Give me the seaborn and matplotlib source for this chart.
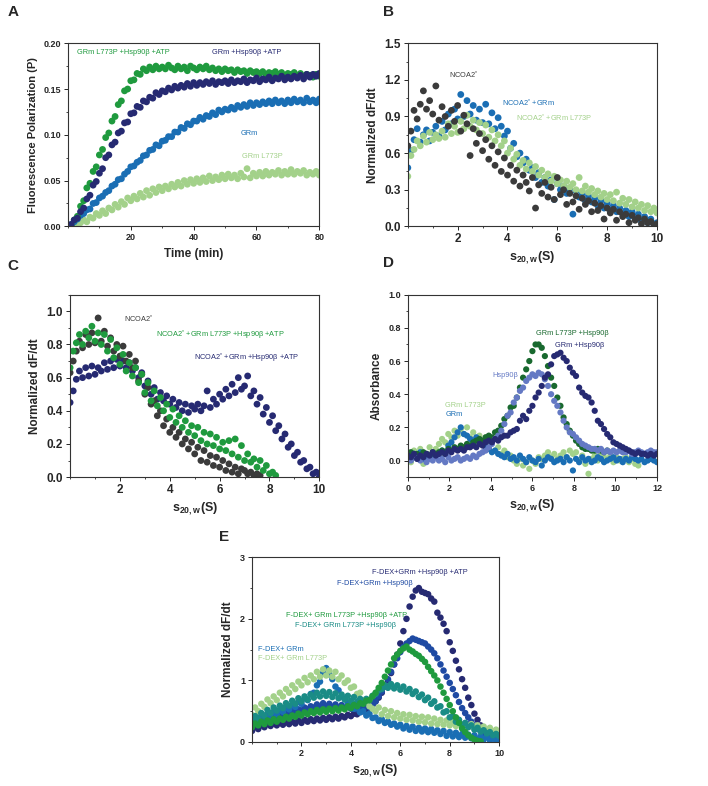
import numpy as np
import matplotlib
matplotlib.use("Agg")
import matplotlib.pyplot as plt
from matplotlib.ticker import AutoMinorLocator, FormatStrFormatter
import seaborn as sns

# ---- panel A: fluorescence polarization vs time (min)
time_min = np.arange(1, 81)
a_l773p_hsp_atp = [
    0.001, 0.007, 0.011, 0.022, 0.028, 0.042, 0.047, 0.060, 0.065, 0.078,
    0.084, 0.097, 0.102, 0.115, 0.120, 0.133, 0.137, 0.148, 0.150, 0.159,
    0.160, 0.167, 0.166, 0.172, 0.170, 0.174, 0.171, 0.175, 0.172, 0.174,
    0.172, 0.176, 0.173, 0.171, 0.175, 0.172, 0.174, 0.170, 0.175, 0.173,
    0.171, 0.174, 0.172, 0.175, 0.171, 0.173, 0.170, 0.172, 0.169, 0.172,
    0.170, 0.171, 0.168, 0.171, 0.169, 0.170, 0.167, 0.170, 0.168, 0.169,
    0.167, 0.169, 0.166, 0.168, 0.167, 0.169, 0.166, 0.168, 0.165, 0.167,
    0.166, 0.168, 0.165, 0.167, 0.164, 0.166, 0.165, 0.163, 0.166, 0.164]
a_grm_hsp_atp = [
    0.002, 0.007, 0.009, 0.016, 0.020, 0.030, 0.034, 0.045, 0.049, 0.058,
    0.063, 0.075, 0.078, 0.089, 0.092, 0.102, 0.104, 0.113, 0.114, 0.123,
    0.124, 0.131, 0.130, 0.137, 0.136, 0.141, 0.140, 0.146, 0.144, 0.148,
    0.147, 0.151, 0.149, 0.153, 0.151, 0.154, 0.152, 0.156, 0.153, 0.157,
    0.154, 0.157, 0.155, 0.158, 0.156, 0.159, 0.155, 0.158, 0.157, 0.159,
    0.156, 0.160, 0.157, 0.159, 0.158, 0.161, 0.157, 0.160, 0.159, 0.162,
    0.158, 0.161, 0.160, 0.163, 0.159, 0.162, 0.161, 0.164, 0.160, 0.163,
    0.161, 0.164, 0.162, 0.165, 0.161, 0.166, 0.163, 0.166, 0.164, 0.167]
a_grm = [
    0.002, 0.005, 0.008, 0.012, 0.014, 0.018, 0.019, 0.025, 0.026, 0.031,
    0.033, 0.037, 0.039, 0.044, 0.046, 0.051, 0.052, 0.057, 0.060, 0.065,
    0.066, 0.070, 0.072, 0.077, 0.078, 0.083, 0.084, 0.089, 0.088, 0.093,
    0.094, 0.098, 0.098, 0.103, 0.103, 0.108, 0.107, 0.112, 0.111, 0.115,
    0.115, 0.119, 0.117, 0.121, 0.120, 0.124, 0.122, 0.127, 0.125, 0.128,
    0.127, 0.130, 0.128, 0.132, 0.130, 0.133, 0.131, 0.135, 0.132, 0.135,
    0.133, 0.136, 0.134, 0.137, 0.134, 0.138, 0.135, 0.137, 0.134, 0.138,
    0.135, 0.139, 0.136, 0.138, 0.135, 0.140, 0.136, 0.138, 0.135, 0.139]
a_l773p = [
    0.000, 0.002, 0.001, 0.004, 0.007, 0.005, 0.010, 0.009, 0.014, 0.012,
    0.017, 0.014, 0.020, 0.018, 0.024, 0.021, 0.027, 0.024, 0.031, 0.028,
    0.033, 0.030, 0.036, 0.032, 0.039, 0.034, 0.041, 0.037, 0.043, 0.039,
    0.044, 0.041, 0.046, 0.043, 0.048, 0.044, 0.050, 0.046, 0.051, 0.047,
    0.052, 0.048, 0.053, 0.049, 0.055, 0.050, 0.054, 0.051, 0.056, 0.052,
    0.057, 0.053, 0.056, 0.052, 0.058, 0.054, 0.063, 0.053, 0.058, 0.055,
    0.059, 0.055, 0.060, 0.056, 0.059, 0.057, 0.061, 0.056, 0.060, 0.057,
    0.062, 0.057, 0.060, 0.058, 0.061, 0.056, 0.059, 0.057, 0.060, 0.056]

# ---- panels B, C, E share a 0..10 S grid (0.125 S steps); D uses 0..12 (0.15 S)
s_grid = np.linspace(0, 10, 81)
s_grid_d = np.linspace(0, 12, 81)

b_ncoa2 = [
    0.66, 0.78, 0.95, 0.88, 1.00, 1.11, 0.96, 1.03, 0.92, 1.15,
    0.87, 0.98, 0.90, 0.82, 0.95, 0.86, 0.99, 0.78, 0.91, 0.84,
    0.58, 0.80, 0.68, 0.76, 0.62, 0.71, 0.55, 0.66, 0.50, 0.61,
    0.45, 0.56, 0.42, 0.50, 0.37, 0.46, 0.33, 0.42, 0.36, 0.29,
    0.40, 0.15, 0.34, 0.27, 0.36, 0.24, 0.32, 0.22, 0.40, 0.26,
    0.30, 0.18, 0.27, 0.20, 0.25, 0.14, 0.23, 0.18, 0.21, 0.12,
    0.19, 0.13, 0.17, 0.06, 0.15, 0.11, 0.14, 0.05, 0.12, 0.08,
    0.10, 0.03, 0.09, 0.05, 0.07, 0.02, 0.06, 0.03, 0.04, 0.01, 0.02]
b_ncoa2_grm = [
    0.48, 0.62, 0.71, 0.80, 0.69, 0.75, 0.79, 0.70, 0.77, 0.82,
    0.74, 0.86, 0.79, 0.92, 0.84, 0.96, 0.88, 1.08, 0.90, 1.03,
    0.92, 0.99, 0.87, 0.96, 0.85, 1.00, 0.84, 0.93, 0.80, 0.89,
    0.82, 0.74, 0.78, 0.64, 0.68, 0.57, 0.60, 0.52, 0.55, 0.46,
    0.48, 0.40, 0.44, 0.36, 0.40, 0.33, 0.38, 0.22, 0.35, 0.30,
    0.33, 0.27, 0.31, 0.10, 0.29, 0.24, 0.27, 0.21, 0.25, 0.20,
    0.23, 0.17, 0.21, 0.15, 0.19, 0.13, 0.17, 0.12, 0.15, 0.10,
    0.13, 0.08, 0.12, 0.06, 0.10, 0.04, 0.08, 0.03, 0.06, 0.02, 0.03]
b_ncoa2_l773p = [
    0.41, 0.58, 0.63, 0.70, 0.66, 0.74, 0.69, 0.77, 0.71, 0.75,
    0.72, 0.78, 0.73, 0.84, 0.76, 0.82, 0.77, 0.86, 0.80, 0.91,
    0.82, 0.87, 0.79, 0.85, 0.76, 0.83, 0.73, 0.79, 0.70, 0.75,
    0.66, 0.70, 0.60, 0.64, 0.55, 0.59, 0.50, 0.54, 0.47, 0.52,
    0.45, 0.49, 0.42, 0.46, 0.40, 0.43, 0.37, 0.41, 0.35, 0.38,
    0.33, 0.37, 0.32, 0.35, 0.30, 0.40, 0.29, 0.33, 0.28, 0.31,
    0.26, 0.29, 0.24, 0.27, 0.22, 0.26, 0.21, 0.28, 0.19, 0.23,
    0.18, 0.22, 0.16, 0.20, 0.15, 0.18, 0.13, 0.17, 0.12, 0.15, 0.11]

c_ncoa2 = [
    0.63, 0.70, 0.76, 0.82, 0.78, 0.86, 0.80, 0.87, 0.81, 0.96,
    0.82, 0.88, 0.79, 0.84, 0.76, 0.80, 0.73, 0.79, 0.70, 0.74,
    0.66, 0.70, 0.58, 0.62, 0.50, 0.54, 0.44, 0.46, 0.37, 0.40,
    0.31, 0.35, 0.27, 0.30, 0.24, 0.27, 0.20, 0.23, 0.17, 0.21,
    0.14, 0.18, 0.10, 0.16, 0.09, 0.13, 0.07, 0.12, 0.06, 0.10,
    0.04, 0.08, 0.03, 0.06, 0.02, 0.05, 0.04, 0.02, 0.03, 0.01,
    0.02, 0.01]
c_l773p_hsp_atp = [
    0.66, 0.76, 0.81, 0.86, 0.80, 0.88, 0.84, 0.91, 0.82, 0.87,
    0.80, 0.86, 0.76, 0.83, 0.72, 0.78, 0.68, 0.74, 0.64, 0.69,
    0.61, 0.66, 0.57, 0.62, 0.51, 0.57, 0.46, 0.52, 0.43, 0.48,
    0.40, 0.44, 0.36, 0.41, 0.33, 0.37, 0.30, 0.34, 0.27, 0.31,
    0.25, 0.30, 0.22, 0.27, 0.20, 0.26, 0.19, 0.24, 0.17, 0.21,
    0.16, 0.22, 0.14, 0.23, 0.12, 0.19, 0.10, 0.14, 0.09, 0.11,
    0.06, 0.10, 0.04, 0.07, 0.02, 0.03, 0.01]
c_grm_hsp_atp = [
    0.45, 0.52, 0.59, 0.64, 0.60, 0.66, 0.61, 0.67, 0.62, 0.66,
    0.64, 0.69, 0.65, 0.70, 0.66, 0.71, 0.67, 0.70, 0.66, 0.69,
    0.64, 0.66, 0.60, 0.63, 0.55, 0.58, 0.50, 0.54, 0.47, 0.51,
    0.46, 0.49, 0.44, 0.47, 0.42, 0.45, 0.40, 0.44, 0.39, 0.43,
    0.41, 0.44, 0.40, 0.43, 0.52, 0.42, 0.47, 0.44, 0.50, 0.47,
    0.53, 0.49, 0.56, 0.51, 0.60, 0.53, 0.55, 0.61, 0.49, 0.52,
    0.44, 0.48, 0.38, 0.42, 0.33, 0.37, 0.28, 0.31, 0.23, 0.26,
    0.18, 0.20, 0.13, 0.15, 0.09, 0.10, 0.05, 0.06, 0.02, 0.03, 0.00]

d_l773p = [
    0.05, -0.01, 0.06, 0.02, 0.07, -0.02, 0.04, 0.08, 0.03, 0.07,
    0.10, 0.13, 0.11, 0.16, 0.14, 0.18, 0.15, 0.19, 0.16, 0.20,
    0.14, 0.17, 0.13, 0.15, 0.11, 0.14, 0.09, 0.12, 0.06, 0.08,
    0.04, 0.06, 0.02, 0.03, 0.00, -0.02, 0.01, -0.03, -0.01, -0.05,
    0.00, -0.02, 0.02, 0.01, 0.03, 0.05, 0.02, 0.04, 0.01, 0.03,
    0.05, 0.02, 0.06, 0.04, 0.05, 0.00, 0.03, -0.02, -0.08, 0.01,
    0.03, 0.00, 0.04, 0.02, 0.01, 0.03, -0.01, 0.02, 0.00, 0.01,
    0.02, -0.01, 0.01, -0.02, -0.03]
d_grm = [
    0.03, 0.01, 0.04, 0.02, 0.05, 0.01, 0.03, 0.02, 0.04, 0.03,
    0.04, 0.06, 0.05, 0.09, 0.11, 0.14, 0.17, 0.20, 0.16, 0.15,
    0.13, 0.12, 0.14, 0.11, 0.10, 0.08, 0.07, 0.05, 0.06, 0.04,
    0.03, 0.02, 0.04, 0.01, 0.02, 0.00, 0.03, 0.01, -0.01, 0.02,
    0.00, -0.01, 0.01, -0.03, 0.00, 0.02, 0.01, -0.01, 0.00, 0.01,
    -0.01, 0.02, 0.00, -0.06, 0.01, -0.01, 0.02, 0.00, 0.01, -0.01,
    0.00, 0.02, 0.01, -0.01, 0.00, 0.01, 0.02, 0.00, 0.01, -0.01,
    0.01, 0.00, 0.02, 0.01, 0.00, 0.01, -0.01, 0.00, 0.01, 0.00, -0.01]
d_hsp90b = [
    0.02, 0.00, 0.03, 0.01, 0.00, 0.02, -0.01, 0.01, 0.00, 0.02,
    0.00, 0.01, -0.01, 0.02, 0.00, 0.01, 0.02, 0.00, 0.01, 0.02,
    0.01, 0.03, 0.02, 0.04, 0.05, 0.06, 0.08, 0.10, 0.13, 0.15,
    0.18, 0.22, 0.27, 0.29, 0.35, 0.38, 0.42, 0.44, 0.48, 0.50,
    0.52, 0.51, 0.53, 0.52, 0.49, 0.45, 0.40, 0.36, 0.33, 0.29,
    0.24, 0.20, 0.17, 0.16, 0.14, 0.12, 0.10, 0.09, 0.08, 0.07,
    0.07, 0.06, 0.07, 0.05, 0.06, 0.05, 0.06, 0.05, 0.06, 0.05,
    0.05, 0.06, 0.04, 0.05, 0.06, 0.05, 0.04, 0.05, 0.06, 0.05, 0.05]
d_l773p_hsp = [
    0.03, 0.05, 0.02, 0.04, 0.03, 0.05, 0.04, 0.03, 0.05, 0.04,
    0.05, 0.06, 0.04, 0.07, 0.06, 0.08, 0.07, 0.09, 0.08, 0.10,
    0.09, 0.11, 0.12, 0.13, 0.12, 0.14, 0.15, 0.14, 0.17, 0.18,
    0.21, 0.25, 0.27, 0.32, 0.33, 0.38, 0.44, 0.50, 0.55, 0.60,
    0.66, 0.70, 0.70, 0.68, 0.63, 0.57, 0.50, 0.45, 0.38, 0.33,
    0.26, 0.22, 0.18, 0.15, 0.12, 0.10, 0.08, 0.07, 0.07, 0.06,
    0.06, 0.07, 0.06, 0.05, 0.06]
d_grm_hsp = [
    0.03, 0.02, 0.04, 0.01, 0.03, 0.02, 0.04, 0.03, 0.05, 0.03,
    0.04, 0.05, 0.04, 0.06, 0.05, 0.07, 0.06, 0.07, 0.06, 0.08,
    0.08, 0.09, 0.08, 0.10, 0.09, 0.11, 0.12, 0.11, 0.13, 0.12,
    0.14, 0.15, 0.15, 0.17, 0.18, 0.19, 0.24, 0.27, 0.25, 0.30,
    0.33, 0.38, 0.41, 0.45, 0.50, 0.52, 0.58, 0.63, 0.64, 0.65,
    0.62, 0.60, 0.56, 0.53, 0.51, 0.44, 0.41, 0.39, 0.38, 0.35,
    0.30, 0.24, 0.22, 0.19, 0.16, 0.14, 0.11, 0.10, 0.09, 0.08,
    0.07, 0.06, 0.05, 0.04, 0.05, 0.04, 0.04, 0.03, 0.04, 0.03, 0.04]

e_grm_hsp_atp = [
    0.18, 0.24, 0.21, 0.27, 0.24, 0.29, 0.26, 0.30, 0.27, 0.31,
    0.28, 0.32, 0.29, 0.33, 0.30, 0.35, 0.31, 0.36, 0.33, 0.37,
    0.34, 0.38, 0.35, 0.39, 0.36, 0.40, 0.37, 0.41, 0.38, 0.42,
    0.40, 0.44, 0.42, 0.46, 0.45, 0.49, 0.50, 0.53, 0.55, 0.60,
    0.66, 0.72, 0.80, 0.90, 1.00, 1.12, 1.26, 1.42, 1.60, 1.80,
    2.00, 2.20, 2.36, 2.46, 2.50, 2.44, 2.42, 2.40, 2.33, 2.28,
    2.10, 2.02, 1.92, 1.80, 1.62, 1.48, 1.32, 1.18, 1.02, 0.88,
    0.72, 0.60, 0.46, 0.36, 0.27, 0.20, 0.14, 0.10, 0.07, 0.05, 0.05]
e_grm_hsp = [
    0.30, 0.35, 0.32, 0.38, 0.35, 0.40, 0.37, 0.42, 0.39, 0.44,
    0.42, 0.47, 0.45, 0.50, 0.48, 0.53, 0.51, 0.56, 0.53, 0.58,
    0.56, 0.61, 0.57, 0.63, 0.58, 0.62, 0.57, 0.61, 0.56, 0.60,
    0.55, 0.59, 0.54, 0.58, 0.53, 0.57, 0.54, 0.58, 0.56, 0.61,
    0.66, 0.74, 0.82, 0.92, 1.02, 1.14, 1.26, 1.36, 1.46, 1.54,
    1.60, 1.64, 1.68, 1.66, 1.64, 1.62, 1.60, 1.55, 1.50, 1.44,
    1.36, 1.26, 1.16, 1.06, 0.96, 0.86, 0.76, 0.65, 0.55, 0.47,
    0.40, 0.33, 0.27, 0.22, 0.18, 0.14, 0.11, 0.08, 0.06, 0.05, 0.04]
e_l773p_hsp_atp = [
    0.24, 0.30, 0.27, 0.33, 0.29, 0.35, 0.31, 0.37, 0.33, 0.38,
    0.36, 0.41, 0.38, 0.43, 0.41, 0.46, 0.43, 0.48, 0.45, 0.50,
    0.47, 0.52, 0.48, 0.53, 0.49, 0.54, 0.50, 0.55, 0.51, 0.56,
    0.53, 0.58, 0.55, 0.60, 0.58, 0.63, 0.62, 0.67, 0.68, 0.74,
    0.80, 0.88, 0.96, 1.06, 1.16, 1.26, 1.36, 1.42, 1.48, 1.52,
    1.55, 1.50, 1.47, 1.43, 1.40, 1.35, 1.30, 1.22, 1.15, 1.08,
    1.00, 0.90, 0.80, 0.70, 0.60, 0.50, 0.40, 0.31, 0.22, 0.16,
    0.11, 0.07, 0.04, 0.02, 0.01]
e_l773p_hsp = [
    0.34, 0.42, 0.38, 0.47, 0.43, 0.52, 0.47, 0.56, 0.51, 0.59,
    0.55, 0.63, 0.59, 0.67, 0.62, 0.71, 0.66, 0.74, 0.69, 0.77,
    0.72, 0.80, 0.74, 0.82, 0.75, 0.81, 0.73, 0.79, 0.71, 0.77,
    0.69, 0.75, 0.67, 0.73, 0.65, 0.70, 0.64, 0.70, 0.68, 0.75,
    0.78, 0.84, 0.86, 0.92, 0.88, 0.94, 0.87, 0.92, 0.85, 0.90,
    0.82, 0.86, 0.78, 0.82, 0.73, 0.77, 0.68, 0.72, 0.62, 0.66,
    0.56, 0.58, 0.48, 0.50, 0.40, 0.42, 0.33, 0.36, 0.28, 0.31,
    0.24, 0.27, 0.20, 0.23, 0.17, 0.19, 0.14, 0.16, 0.11, 0.13, 0.10]
e_grm = [
    0.33, 0.40, 0.36, 0.43, 0.39, 0.46, 0.42, 0.49, 0.45, 0.52,
    0.49, 0.56, 0.53, 0.60, 0.57, 0.65, 0.62, 0.71, 0.68, 0.78,
    0.80, 0.92, 0.98, 1.12, 1.20, 1.10, 1.02, 0.90, 0.84, 0.74,
    0.70, 0.63, 0.60, 0.54, 0.55, 0.48, 0.50, 0.43, 0.46, 0.39,
    0.40, 0.34, 0.37, 0.31, 0.33, 0.28, 0.30, 0.25, 0.28, 0.22,
    0.26, 0.20, 0.25, 0.18, 0.23, 0.17, 0.22, 0.16, 0.21, 0.15,
    0.19, 0.13, 0.18, 0.10, 0.16, 0.09, 0.15, 0.08, 0.13, 0.07,
    0.12, 0.06, 0.11, 0.05, 0.09, 0.04, 0.08, 0.03, 0.06, 0.03, 0.04]
e_l773p = [
    0.44, 0.56, 0.50, 0.62, 0.57, 0.69, 0.63, 0.74, 0.68, 0.80,
    0.74, 0.86, 0.80, 0.92, 0.86, 0.98, 0.92, 1.04, 0.97, 1.08,
    1.02, 1.14, 1.06, 1.18, 1.08, 1.16, 1.06, 1.14, 1.02, 1.08,
    0.96, 1.00, 0.88, 0.90, 0.78, 0.80, 0.68, 0.66, 0.58, 0.54,
    0.50, 0.56, 0.45, 0.52, 0.42, 0.50, 0.40, 0.47, 0.38, 0.45,
    0.36, 0.44, 0.35, 0.42, 0.33, 0.41, 0.32, 0.40, 0.30, 0.38,
    0.29, 0.36, 0.28, 0.35, 0.27, 0.33, 0.26, 0.32, 0.25, 0.30,
    0.24, 0.29, 0.22, 0.27, 0.21, 0.25, 0.19, 0.23, 0.17, 0.20, 0.15]

GREEN = "#1f9a3e"
NAVY = "#262a72"
BLUE = "#1a6eb4"
LIGHT = "#a3d18a"
GRAY = "#3b3b3b"
DKGREEN = "#19692f"
PERI = "#6479c4"
TEAL = "#1a8c86"
ROYAL = "#1e4aa3"

sns.set_style("ticks")
plt.rcParams["font.family"] = ["Liberation Sans", "DejaVu Sans"]
plt.rcParams["mathtext.fontset"] = "custom"
plt.rcParams["mathtext.rm"] = "Liberation Sans"
plt.rcParams["mathtext.bf"] = "Liberation Sans:bold"
plt.rcParams["mathtext.default"] = "regular"

S_LABEL = r"$\mathbf{s_{20,w}}$(S)"

fig = plt.figure(figsize=(7.08, 7.86), dpi=100)


def dots(ax, x, y, color, s=12):
    sns.scatterplot(x=x[:len(y)], y=y, ax=ax, color=color, s=s,
                    linewidth=0, edgecolor="none", legend=False)


def style(ax, tick_fs):
    for sp in ax.spines.values():
        sp.set_linewidth(0.8)
        sp.set_color("#333333")
    ax.xaxis.set_minor_locator(AutoMinorLocator(2))
    ax.yaxis.set_minor_locator(AutoMinorLocator(2))
    ax.tick_params(which="major", length=3, width=0.7, labelsize=tick_fs, pad=2)
    ax.tick_params(which="minor", length=1.6, width=0.6)
    for lab in ax.get_xticklabels() + ax.get_yticklabels():
        lab.set_fontweight("bold")


def note(ax, x, y, text, color):
    ax.text(x, y, text, color=color, fontsize=5.3, ha="left", va="center")


# ---- A
axA = fig.add_axes([0.096, 0.712, 0.355, 0.233])
dots(axA, time_min, a_l773p, LIGHT, 24)
dots(axA, time_min, a_grm, BLUE, 24)
dots(axA, time_min, a_l773p_hsp_atp, GREEN, 24)
dots(axA, time_min, a_grm_hsp_atp, NAVY, 24)
axA.set_xlim(0, 80)
axA.set_ylim(0, 0.2)
axA.set_xticks([20, 40, 60, 80])
axA.set_yticks([0, 0.05, 0.10, 0.15, 0.20])
axA.yaxis.set_major_formatter(FormatStrFormatter("%.2f"))
axA.set_xlabel("Time (min)", fontsize=8.5, fontweight="bold", labelpad=4)
axA.set_ylabel("Fluorescence Polarization (P)", fontsize=8, fontweight="bold", labelpad=4)
style(axA, 6.5)
note(axA, 3, 0.19, "GRm L773P +Hsp90\u03b2 +ATP", GREEN)
note(axA, 46, 0.19, "GRm +Hsp90\u03b2 +ATP", NAVY)
note(axA, 55, 0.101, "GRm", BLUE)
note(axA, 55.5, 0.076, "GRm L773P", LIGHT)

# ---- B
axB = fig.add_axes([0.576, 0.712, 0.352, 0.233])
dots(axB, s_grid, b_ncoa2_grm, BLUE, 24)
dots(axB, s_grid, b_ncoa2_l773p, LIGHT, 24)
dots(axB, s_grid, b_ncoa2, GRAY, 24)
axB.set_xlim(0, 10)
axB.set_ylim(0, 1.5)
axB.set_xticks([2, 4, 6, 8, 10])
axB.set_yticks([0, 0.3, 0.6, 0.9, 1.2, 1.5])
axB.yaxis.set_major_formatter(FormatStrFormatter("%.1f"))
axB.set_xlabel(S_LABEL, fontsize=9, fontweight="bold", labelpad=3)
axB.set_ylabel("Normalized dF/dt", fontsize=8.5, fontweight="bold", labelpad=4)
style(axB, 8.5)
note(axB, 1.67, 1.235, r"NCOA2$^{*}$", GRAY)
note(axB, 3.77, 1.008, r"NCOA2$^{*}$ +GRm", BLUE)
note(axB, 4.34, 0.888, r"NCOA2$^{*}$ +GRm L773P", LIGHT)

# ---- C
axC = fig.add_axes([0.099, 0.393, 0.352, 0.232])
dots(axC, s_grid, c_grm_hsp_atp, NAVY, 24)
dots(axC, s_grid, c_ncoa2, GRAY, 24)
dots(axC, s_grid, c_l773p_hsp_atp, GREEN, 24)
axC.set_xlim(0, 10)
axC.set_ylim(0, 1.1)
axC.set_xticks([2, 4, 6, 8, 10])
axC.set_yticks([0, 0.2, 0.4, 0.6, 0.8, 1.0])
axC.yaxis.set_major_formatter(FormatStrFormatter("%.1f"))
axC.set_xlabel(S_LABEL, fontsize=9, fontweight="bold", labelpad=3)
axC.set_ylabel("Normalized dF/dt", fontsize=8.5, fontweight="bold", labelpad=4)
style(axC, 8.5)
note(axC, 2.17, 0.954, r"NCOA2$^{*}$", GRAY)
note(axC, 3.44, 0.857, r"NCOA2$^{*}$ +GRm L773P +Hsp90$\beta$ +ATP", GREEN)
note(axC, 4.99, 0.719, r"NCOA2$^{*}$ +GRm +Hsp90$\beta$ +ATP", NAVY)

# ---- D
axD = fig.add_axes([0.576, 0.393, 0.352, 0.232])
dots(axD, s_grid_d, d_l773p, LIGHT, 20)
dots(axD, s_grid_d, d_grm, BLUE, 20)
dots(axD, s_grid_d, d_l773p_hsp, DKGREEN, 20)
dots(axD, s_grid_d, d_hsp90b, PERI, 20)
dots(axD, s_grid_d, d_grm_hsp, NAVY, 20)
axD.set_xlim(0, 12)
axD.set_ylim(-0.1, 1.0)
axD.set_xticks([0, 2, 4, 6, 8, 10, 12])
axD.set_yticks([0, 0.2, 0.4, 0.6, 0.8, 1.0])
axD.yaxis.set_major_formatter(FormatStrFormatter("%.1f"))
axD.set_xlabel(S_LABEL, fontsize=9, fontweight="bold", labelpad=3)
axD.set_ylabel("Absorbance", fontsize=8.5, fontweight="bold", labelpad=4)
style(axD, 6.5)
note(axD, 6.18, 0.765, "GRm L773P +Hsp90\u03b2", DKGREEN)
note(axD, 7.1, 0.693, "GRm +Hsp90\u03b2", NAVY)
note(axD, 4.06, 0.512, "Hsp90\u03b2", PERI)
note(axD, 1.8, 0.333, "GRm L773P", LIGHT)
note(axD, 1.8, 0.275, "GRm", BLUE)

# ---- E
axE = fig.add_axes([0.356, 0.056, 0.349, 0.235])
dots(axE, s_grid, e_grm_hsp_atp, NAVY, 22)
dots(axE, s_grid, e_grm_hsp, ROYAL, 22)
dots(axE, s_grid, e_grm, BLUE, 22)
dots(axE, s_grid, e_l773p, LIGHT, 22)
dots(axE, s_grid, e_l773p_hsp, TEAL, 22)
dots(axE, s_grid, e_l773p_hsp_atp, GREEN, 22)
axE.set_xlim(0, 10)
axE.set_ylim(0, 3)
axE.set_xticks([2, 4, 6, 8, 10])
axE.set_yticks([0, 1, 2, 3])
axE.set_xlabel(S_LABEL, fontsize=9, fontweight="bold", labelpad=3)
axE.set_ylabel("Normalized dF/dt", fontsize=8.5, fontweight="bold", labelpad=4)
style(axE, 6.5)
note(axE, 4.85, 2.75, "F-DEX+GRm +Hsp90\u03b2 +ATP", NAVY)
note(axE, 3.44, 2.58, "F-DEX+GRm +Hsp90\u03b2", ROYAL)
note(axE, 1.39, 2.05, "F-DEX+ GRm L773P +Hsp90\u03b2 +ATP", GREEN)
note(axE, 1.75, 1.89, "F-DEX+ GRm L773P +Hsp90\u03b2", TEAL)
note(axE, 0.23, 1.51, "F-DEX+ GRm", BLUE)
note(axE, 0.23, 1.35, "F-DEX+ GRm L773P", LIGHT)

for lbl, (fx, fy) in {"A": (0.011, 0.985), "B": (0.541, 0.985), "C": (0.010, 0.662),
                      "D": (0.541, 0.666), "E": (0.309, 0.317)}.items():
    fig.text(fx, fy, lbl, fontsize=11, fontweight="bold", ha="left", va="center")

fig.savefig("out.png", dpi=100)
